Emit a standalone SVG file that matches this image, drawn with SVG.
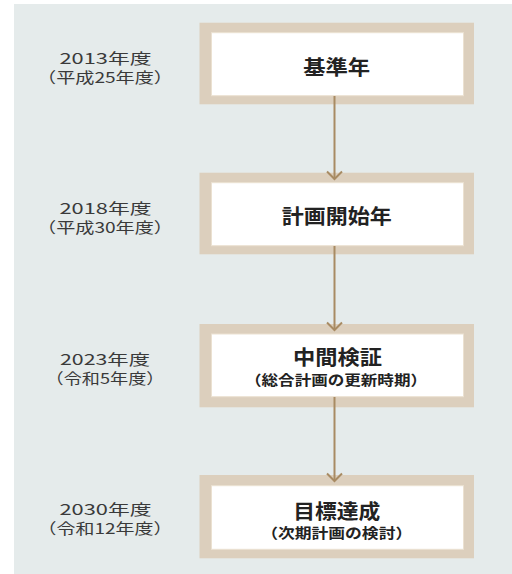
<svg xmlns="http://www.w3.org/2000/svg" width="512" height="574" viewBox="0 0 512 574">
<style>
.outer{fill:#dccfbd}
.inner{fill:#ffffff;stroke:#ebe1d1;stroke-width:1}
.lbl{font-family:"Noto Sans CJK JP","Noto Sans",sans-serif;font-size:15px;fill:#3a3a3a;text-anchor:middle}
.ttl{font-family:"Noto Sans CJK JP","Noto Sans",sans-serif;font-size:20px;font-weight:700;fill:#222;text-anchor:middle}
.sub{font-family:"Noto Sans CJK JP","Noto Sans",sans-serif;font-size:14px;font-weight:700;fill:#222;text-anchor:middle}
.conn{stroke:#a88b63;stroke-width:2;fill:none}
</style>
<rect x="14" y="4" width="498" height="570" fill="#e5ebeb"/>
<g id="node1">
<rect class="outer" x="199.5" y="22.7" width="274.5" height="81.6"/>
<rect class="inner" x="211.5" y="32.7" width="252" height="63"/>
<text class="ttl" x="336.7" y="74.5" textLength="67" lengthAdjust="spacingAndGlyphs">基準年</text>
<text class="lbl" x="105.5" y="63.5" textLength="92" lengthAdjust="spacingAndGlyphs">2013年度</text>
<text class="lbl" x="105" y="82.5" textLength="136" lengthAdjust="spacingAndGlyphs">（平成25年度）</text>
</g>
<g id="node2">
<rect class="outer" x="199.5" y="172.7" width="274.5" height="81.6"/>
<rect class="inner" x="211.5" y="182.7" width="252" height="63"/>
<text class="ttl" x="336.7" y="223.5" textLength="110" lengthAdjust="spacingAndGlyphs">計画開始年</text>
<text class="lbl" x="105.5" y="213.5" textLength="92" lengthAdjust="spacingAndGlyphs">2018年度</text>
<text class="lbl" x="105" y="232.5" textLength="136" lengthAdjust="spacingAndGlyphs">（平成30年度）</text>
</g>
<g id="node3">
<rect class="outer" x="199.5" y="324" width="274.5" height="83.3"/>
<rect class="inner" x="211.5" y="334" width="252" height="62.7"/>
<text class="ttl" x="337.5" y="365" textLength="89" lengthAdjust="spacingAndGlyphs">中間検証</text>
<text class="sub" x="336" y="384.5" textLength="182" lengthAdjust="spacingAndGlyphs">（総合計画の更新時期）</text>
<text class="lbl" x="105" y="364.5" textLength="90" lengthAdjust="spacingAndGlyphs">2023年度</text>
<text class="lbl" x="105" y="383.5" textLength="119" lengthAdjust="spacingAndGlyphs">（令和5年度）</text>
</g>
<g id="node4">
<rect class="outer" x="199.5" y="475" width="274.5" height="83.3"/>
<rect class="inner" x="211.5" y="485.7" width="252" height="63.6"/>
<text class="ttl" x="336.7" y="518.5" textLength="87" lengthAdjust="spacingAndGlyphs">目標達成</text>
<text class="sub" x="336.7" y="538" textLength="151" lengthAdjust="spacingAndGlyphs">（次期計画の検討）</text>
<text class="lbl" x="105.5" y="514.5" textLength="92" lengthAdjust="spacingAndGlyphs">2030年度</text>
<text class="lbl" x="105" y="533.5" textLength="135" lengthAdjust="spacingAndGlyphs">（令和12年度）</text>
</g>
<g id="connectors">
<line class="conn" x1="334.5" y1="96" x2="334.5" y2="179"/>
<polyline class="conn" points="327,171.5 334.5,179 342,171.5"/>
<line class="conn" x1="334.5" y1="246" x2="334.5" y2="330"/>
<polyline class="conn" points="327,322.5 334.5,330 342,322.5"/>
<line class="conn" x1="334.5" y1="397" x2="334.5" y2="481"/>
<polyline class="conn" points="327,473.5 334.5,481 342,473.5"/>
</g>
</svg>
